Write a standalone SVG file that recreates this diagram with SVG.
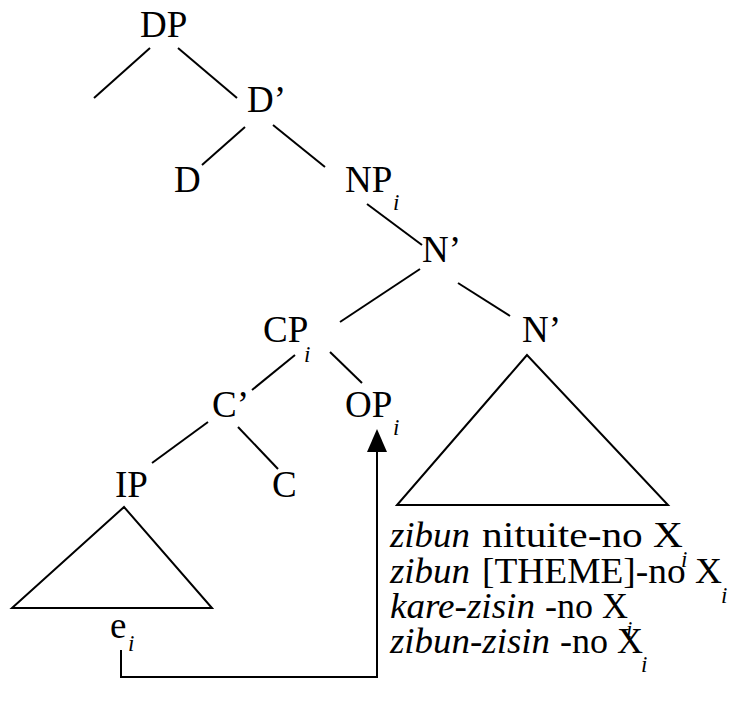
<svg xmlns="http://www.w3.org/2000/svg" width="732" height="718" viewBox="0 0 732 718">
<style>
text{font-family:'Liberation Serif','DejaVu Serif',serif;fill:#000}
.lbl{font-size:37px}
.sub{font-size:23px;font-style:italic}
.txt{font-size:36px}
.it{font-style:italic}
.ln{stroke:#000;stroke-width:2;fill:none}
</style>
<rect width="732" height="718" fill="#fff"/>
<g id="connectors">
<line class="ln" x1="150" y1="48" x2="94" y2="98"/>
<line class="ln" x1="178" y1="48" x2="237" y2="98"/>
<line class="ln" x1="245" y1="127" x2="202" y2="165"/>
<line class="ln" x1="273" y1="125" x2="325" y2="167"/>
<line class="ln" x1="367" y1="204" x2="422" y2="245"/>
<line class="ln" x1="420" y1="269" x2="340" y2="322"/>
<line class="ln" x1="458" y1="283" x2="510" y2="316"/>
<line class="ln" x1="295" y1="355" x2="252" y2="390"/>
<line class="ln" x1="330" y1="352" x2="362" y2="383"/>
<line class="ln" x1="208" y1="422" x2="152" y2="463"/>
<line class="ln" x1="238" y1="427" x2="278" y2="469"/>
<path class="ln" d="M121,650 V677 H377 V450"/>
<polygon points="377,429 367,452 387,452" fill="#000"/>
</g>
<g id="DP"><text class="lbl" x="140" y="37" font-family="Liberation Serif, serif">DP</text></g>
<g id="Dbar"><text class="lbl" x="247" y="112">D’</text></g>
<g id="D"><text class="lbl" x="174" y="192">D</text></g>
<g id="NP"><text class="lbl" x="345" y="192">NP</text><text class="sub" x="393" y="210">i</text></g>
<g id="Nbar1"><text class="lbl" x="422" y="262">N’</text></g>
<g id="CP"><text class="lbl" x="263" y="342">CP</text><text class="sub" x="304" y="362">i</text></g>
<g id="Nbar2"><text class="lbl" x="522" y="342">N’</text>
<polygon class="ln" points="527,355 397,505 668,505"/></g>
<g id="Cbar"><text class="lbl" x="212" y="417">C’</text></g>
<g id="OP"><text class="lbl" x="345" y="417">OP</text><text class="sub" x="393" y="435">i</text></g>
<g id="IP"><text class="lbl" x="115" y="497">IP</text>
<polygon class="ln" points="124,507 12,608 212,608"/></g>
<g id="C"><text class="lbl" x="272" y="497">C</text></g>
<g id="e"><text class="lbl" x="110" y="638">e</text><text class="sub" x="128" y="651">i</text></g>
<g id="list">
<text class="txt it" x="390" y="547" textLength="80" lengthAdjust="spacingAndGlyphs">zibun</text>
<text class="txt" x="482" y="547" textLength="201" lengthAdjust="spacingAndGlyphs">nituite-no X</text>
<text class="sub" x="681" y="567">i</text>
<text class="txt it" x="390" y="583" textLength="80" lengthAdjust="spacingAndGlyphs">zibun</text>
<text class="txt" x="482" y="583" textLength="240" lengthAdjust="spacingAndGlyphs">[THEME]-no X</text>
<text class="sub" x="721" y="603">i</text>
<text class="txt it" x="390" y="618" textLength="145" lengthAdjust="spacingAndGlyphs">kare-zisin</text>
<text class="txt" x="545" y="618" textLength="83" lengthAdjust="spacingAndGlyphs">-no X</text>
<text class="sub" x="626" y="637">i</text>
<text class="txt it" x="390" y="653" textLength="160" lengthAdjust="spacingAndGlyphs">zibun-zisin</text>
<text class="txt" x="560" y="653" textLength="83" lengthAdjust="spacingAndGlyphs">-no X</text>
<text class="sub" x="641" y="672">i</text>
</g>
</svg>
